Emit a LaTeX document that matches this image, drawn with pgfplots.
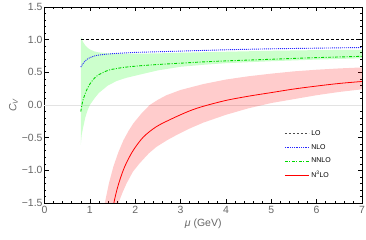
\documentclass[border=0pt]{standalone}
\usepackage{pgfplots}
\pgfplotsset{compat=1.18}
\usepackage{fontspec}
\setmainfont{Liberation Sans}
\definecolor{nlo}{RGB}{40,40,255}
\definecolor{nnlo}{RGB}{0,215,0}
\begin{document}
\begin{tikzpicture}
\begin{axis}[
  scale only axis, width=317.5bp, height=196bp,
  xmin=0, xmax=7, ymin=-1.5, ymax=1.5,
  xtick={0,1,2,3,4,5,6,7},
  ytick={-1.5,-1,-0.5,0,0.5,1,1.5},
  yticklabels={−1.5,−1.0,−0.5,0.0,0.5,1.0,1.5},
  minor x tick num=4, minor y tick num=4,
  tick align=inside, major tick length=4bp, minor tick length=2bp,
  tick style={black, line width=0.5bp},
  axis line style={black, line width=0.9bp},
  /pgf/number format/assume math mode=true,
  tick label style={font=\fontsize{10.5}{12}\selectfont, text=black!60},
  yticklabel style={xshift=1.5bp},
  xticklabel style={yshift=0bp},
  xlabel={\textit{μ} (GeV)},
  ylabel={\textit{C}\textsubscript{\textit{V}}},
  label style={font=\fontsize{10.5}{12}\selectfont, text=black!60},
  xlabel style={yshift=2bp},
  ylabel style={yshift=-3bp},
  extra y ticks={0}, extra y tick labels={},
  extra y tick style={grid=major, major grid style={black!11, line width=0.6bp}, major tick length=0pt},
  legend style={at={(rel axis cs:0.755,0.38)}, anchor=north west, draw=none, fill=none,
    font=\fontsize{7}{8}\selectfont, row sep=3.2bp, inner sep=0pt},
  legend cell align=left,
]
% NNLO band (green)
\addplot[draw=none, fill=green, fill opacity=0.2, forget plot] coordinates {
(0.8,1.05) (0.82,1.01) (0.85,0.965) (0.9,0.91) (0.95,0.875) (1.0,0.85) (1.1,0.82) (1.2,0.805) (1.4,0.79) (1.7,0.785) (2.0,0.785) (2.5,0.79) (3.0,0.80) (4.0,0.815) (5.0,0.83) (6.0,0.84) (7.0,0.845)
(7.0,0.715) (6.0,0.695) (5.0,0.67) (4.0,0.64) (3.5,0.615) (3.0,0.585) (2.5,0.53) (2.1,0.465) (1.8,0.415) (1.6,0.37) (1.4,0.30) (1.2,0.185) (1.1,0.10) (1.0,0.0) (0.95,-0.08) (0.9,-0.19) (0.85,-0.35) (0.82,-0.46) (0.8,-0.61)
} -- cycle;
% N3LO band (red)
\addplot[draw=none, fill=red, fill opacity=0.2, forget plot] coordinates {
(1.18,-2.5) (1.25,-2.0) (1.33,-1.5) (1.42,-1.2) (1.52,-0.94) (1.63,-0.72) (1.74,-0.54) (1.85,-0.40) (1.96,-0.28) (2.15,-0.12) (2.32,0.0) (2.5,0.08) (2.69,0.15) (3.0,0.23) (3.5,0.32) (4.0,0.39) (4.5,0.44) (5.0,0.48) (5.5,0.515) (6.0,0.54) (6.5,0.56) (7.0,0.575)
(7.0,0.24) (6.5,0.20) (6.0,0.15) (5.5,0.09) (5.0,0.03) (4.5,-0.05) (4.0,-0.15) (3.5,-0.27) (3.2,-0.36) (2.91,-0.46) (2.7,-0.54) (2.47,-0.64) (2.3,-0.74) (2.1,-0.89) (1.95,-1.02) (1.81,-1.2) (1.72,-1.34) (1.63,-1.5) (1.55,-1.7) (1.47,-2.0) (1.38,-2.5)
} -- cycle;
% LO
\addplot[draw=black, line width=0.8bp, dash pattern=on 3bp off 2bp,
  legend image code/.code={\draw[draw=black!70, line width=0.8bp, dash pattern=on 2.5bp off 1.5bp] (0bp,0bp) -- (24bp,0bp);}] coordinates {(0.8,1) (7,1)};
\addlegendentry{LO}
% NLO
\addplot[draw=nlo, line width=0.9bp, dash pattern=on 1bp off 1bp, smooth,
  legend image code/.code={\draw[draw=nlo, line width=0.9bp, dash pattern=on 1bp off 0.8bp] (0bp,0bp) -- (24bp,0bp);}] coordinates {
(0.8,0.58) (0.85,0.635) (0.9,0.675) (0.95,0.705) (1.0,0.725) (1.1,0.75) (1.2,0.765) (1.4,0.78) (1.6,0.79) (2.0,0.805) (2.5,0.815) (3.0,0.825) (4.0,0.845) (5.0,0.86) (6.0,0.87) (7.0,0.88)};
\addlegendentry{NLO}
% NNLO
\addplot[draw=nnlo, line width=0.9bp, dash pattern=on 3bp off 1.5bp on 1bp off 1.5bp, smooth,
  legend image code/.code={\draw[draw=nnlo, line width=0.9bp, dash pattern=on 3bp off 1.5bp on 1bp off 1.5bp] (0bp,0bp) -- (24bp,0bp);}] coordinates {
(0.8,-0.10) (0.83,0.02) (0.85,0.08) (0.9,0.18) (0.95,0.26) (1.0,0.32) (1.1,0.41) (1.2,0.465) (1.4,0.53) (1.6,0.56) (1.8,0.58) (2.1,0.60) (2.5,0.62) (3.0,0.64) (3.5,0.66) (4.0,0.675) (5.0,0.70) (6.0,0.725) (7.0,0.745)};
\addlegendentry{NNLO}
% N3LO
\addplot[draw=red, line width=0.8bp, smooth,
  legend image code/.code={\draw[draw=red, line width=0.9bp] (0bp,0bp) -- (24bp,0bp);}] coordinates {
(1.40,-2.1) (1.45,-1.85) (1.53,-1.5) (1.6,-1.29) (1.66,-1.15) (1.73,-1.01) (1.81,-0.88) (1.96,-0.69) (2.18,-0.49) (2.47,-0.33) (2.84,-0.20) (3.2,-0.09) (3.5,-0.02) (4.0,0.07) (4.5,0.135) (5.0,0.19) (5.5,0.245) (6.0,0.29) (6.5,0.33) (7.0,0.36)};
\addlegendentry{N\textsuperscript{3}LO}
\end{axis}
\pgfresetboundingbox
\path (current axis.south west) ++(-44.5bp,-37bp) rectangle ++(366bp,240bp);
\end{tikzpicture}
\end{document}
